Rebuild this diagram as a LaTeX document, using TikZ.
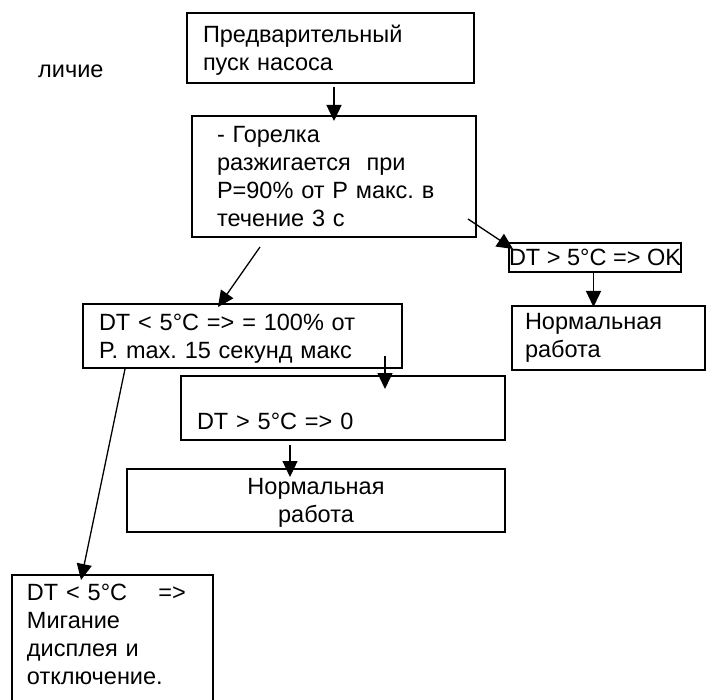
\documentclass[tikz,border=0pt]{standalone}
\usepackage{fontspec}
\setmainfont{Liberation Sans}
\usetikzlibrary{arrows.meta,calc}

\newcommand{\nodepth}[1]{\raisebox{0pt}[\height][0pt]{#1}}

\tikzset{
  box/.style={draw, line width=2pt, outer sep=0pt, anchor=north west, align=left, inner ysep=0pt},
  arr/.style={line width=1.3pt, -{Triangle[length=16pt,width=15pt]}},
}

\begin{document}
\frenchspacing
\begin{tikzpicture}[x=1pt,y=-1pt, every node/.style={font=\fontsize{23.5}{28}\selectfont}]
  \useasboundingbox (0,0) rectangle (706,700);
  % left margin text
  \node[anchor=base west, inner sep=0pt] (nal) at (38,78) {личие};
  % boxes
  \node[box, minimum width=287pt, minimum height=70pt, inner xsep=16pt, text width=255pt] (pump) at (187,13) {Предварительный\\\nodepth{пуск насоса}};
  \node[box, minimum width=284pt, minimum height=121pt, inner xsep=25pt, text width=234pt] (burner) at (192,116) {- Горелка\\разжигается\ \ при\\P=90\% от P макс. в\\течение 3 с};
  \node[box, minimum width=171pt, minimum height=29pt, inner xsep=0pt, align=center] (ok) at (509,243) {DT > 5°C => OK};
  \node[box, minimum width=193pt, minimum height=64pt, inner xsep=13pt, text width=167pt] (normA) at (512,306) {Нормальная\\работа};
  \node[box, minimum width=319pt, minimum height=64pt, inner xsep=16pt, text width=287pt] (low) at (83,304) {DT < 5°C => = 100\% от\\\nodepth{P. max. 15 секунд макс}};
  \node[box, minimum width=324pt, minimum height=64pt, inner xsep=16pt, text width=292pt] (zero) at (181,376) {\vphantom{D}\\DT > 5°C => 0};
  \node[box, align=center, minimum width=378pt, minimum height=63pt, inner xsep=5pt, text width=368pt] (normB) at (127,469) {Нормальная\\\nodepth{работа}};
  \node[box, minimum width=201pt, minimum height=146pt, inner xsep=15pt, text width=171pt] (alarm) at (12,575) {DT < 5°C\ \ \ \ =>\\Мигание\\дисплея и\\отключение.\\\mbox{}};
  % arrows
  \draw[arr] ($(pump.south -| burner.north)+(0,4)$) -- ($(burner.north)+(0,5)$);
  \draw[arr] ($(burner.south east)+(-8,-18)$) -- ($(ok.north west)+(4,6)$);
  \draw[arr] ($(burner.south west)+(68,10)$) -- ($(low.north west)+(135,3)$);
  \draw[arr] ($(ok.south)+(-1.5,1)$) -- ($(ok.south |- normA.north)+(-1.5,1)$);
  \draw[arr] ($(low.south east)+(-17,-12)$) -- ($(low.south east |- zero.north)+(-17,13)$);
  \draw[arr] ($(zero.south west)+(109,5)$) -- ($(zero.south west |- normB.north)+(109,8)$);
  \draw[arr] ($(low.south west)+(42,1)$) -- ($(alarm.north west)+(69,5)$);
\end{tikzpicture}
\end{document}
